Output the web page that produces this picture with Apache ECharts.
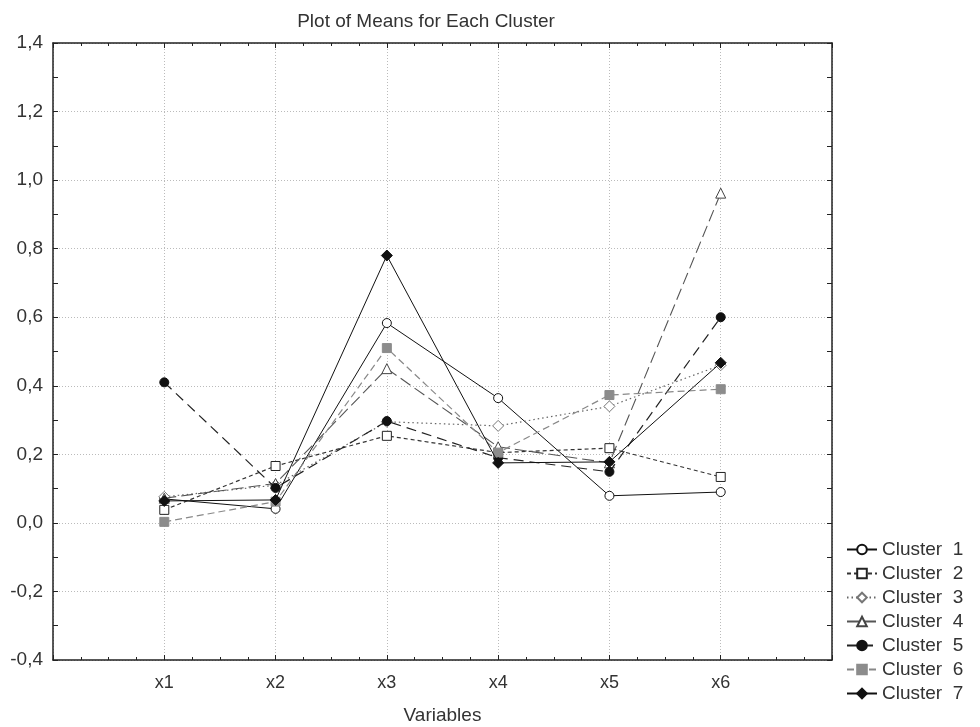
<!DOCTYPE html>
<html><head><meta charset="utf-8">
<script src="https://cdn.jsdelivr.net/npm/echarts@6/dist/echarts.min.js"></script>
<style>html,body{margin:0;padding:0;background:#fff}#c{width:980px;height:727px}</style>
</head><body><div id="c"></div>
<script>
const categories = ["x1","x2","x3","x4","x5","x6"];
const seriesNames = ["Cluster  1","Cluster  2","Cluster  3","Cluster  4","Cluster  5","Cluster  6","Cluster  7"];
const cluster1 = [0.070, 0.041, 0.583, 0.364, 0.079, 0.090];
const cluster2 = [0.038, 0.166, 0.254, 0.205, 0.218, 0.134];
const cluster3 = [0.076, 0.110, 0.295, 0.283, 0.340, 0.460];
const cluster4 = [0.072, 0.115, 0.450, 0.222, 0.175, 0.962];
const cluster5 = [0.410, 0.102, 0.297, 0.190, 0.149, 0.600];
const cluster6 = [0.003, 0.062, 0.510, 0.205, 0.373, 0.390];
const cluster7 = [0.064, 0.067, 0.780, 0.175, 0.178, 0.467];
const yTicks = [-0.4,-0.2,0,0.2,0.4,0.6,0.8,1.0,1.2,1.4];

const allValues = [cluster1,cluster2,cluster3,cluster4,cluster5,cluster6,cluster7];
const styles = [
  {symbol:'circle', fill:'#fff', stroke:'#111', line:'#111', type:'solid', w:1},
  {symbol:'rect', fill:'#fff', stroke:'#222', line:'#333', type:[4,3], w:1.2},
  {symbol:'diamond', fill:'#fff', stroke:'#777', line:'#666', type:[1.5,3], w:1.2},
  {symbol:'triangle', fill:'#fff', stroke:'#444', line:'#555', type:[12,5], w:1.1},
  {symbol:'circle', fill:'#111', stroke:'#111', line:'#222', type:[10,6], w:1.2},
  {symbol:'rect', fill:'#8c8c8c', stroke:'#8c8c8c', line:'#888', type:[7,4], w:1.2},
  {symbol:'diamond', fill:'#111', stroke:'#111', line:'#111', type:'solid', w:1}
];
const font = 'Liberation Sans, Arial, sans-serif';
const series = allValues.map((vals,i)=>({
  name: seriesNames[i],
  type: 'line',
  data: vals.map((v,j)=>[j+1, v]),
  symbol: styles[i].symbol,
  symbolSize: styles[i].symbol==='diamond'?11:(styles[i].symbol==='triangle'?10:9),
  showAllSymbol: true,
  itemStyle: {color: styles[i].fill, borderColor: styles[i].stroke, borderWidth: 1},
  lineStyle: {color: styles[i].line, type: styles[i].type, width: styles[i].w},
  emphasis: {disabled: true},
  z: 10 + i
}));
const chart = echarts.init(document.getElementById('c'), null, {renderer:'canvas'});
const axisLine = {show:true, onZero:false, lineStyle:{color:'#222', width:1.5}};
const tick = {show: true, inside: true, length: 5, lineStyle:{color:'#222'}};
chart.setOption({
  animation: false,
  backgroundColor: '#fff',
  title: {text: 'Plot of Means for Each Cluster', left: 421, top: 7, textAlign: 'center',
    textStyle: {fontFamily: font, fontSize: 19, fontWeight: 'normal', color: '#333'}},
  legend: {orient: 'vertical', left: 841, top: 535, itemWidth: 30, itemHeight: 12, itemGap: 5,
    textStyle: {fontFamily: font, fontSize: 19, color: '#333'},
    data: seriesNames},
  grid: {left: 53, right: 148, top: 43, bottom: 67, outerBoundsMode: 'none', containLabel: false},
  xAxis: [{
    type: 'value', min: 0, max: 7, interval: 1, position: 'bottom',
    name: 'Variables', nameLocation: 'middle', nameGap: 46,
    nameTextStyle: {fontFamily: font, fontSize: 19, color: '#333'},
    axisLine: axisLine, axisTick: tick,
    minorTick: {show: true, splitNumber: 4, length: 3, lineStyle:{color:'#222'}},
    axisLabel: {fontFamily: font, fontSize: 18, color: '#333', margin: 14,
      formatter: v => (v>=1 && v<=categories.length) ? categories[v-1] : ''},
    splitLine: {show: true, lineStyle: {color: '#bbb', type: [1,2]}},
  },{
    type: 'value', min: 0, max: 7, interval: 1, position: 'top',
    axisLine: axisLine, axisTick: tick,
    minorTick: {show: true, splitNumber: 4, length: 3, lineStyle:{color:'#222'}},
    axisLabel: {show: false}, splitLine: {show: false}
  }],
  yAxis: [{
    type: 'value', min: yTicks[0], max: yTicks[yTicks.length-1], interval: 0.2, position: 'left',
    axisLine: axisLine, axisTick: tick,
    minorTick: {show: true, splitNumber: 2, length: 5, lineStyle:{color:'#222'}},
    axisLabel: {fontFamily: font, fontSize: 19, color: '#333', margin: 10,
      formatter: v => (Math.round(v*10)/10).toFixed(1).replace('.', ',')},
    splitLine: {show: true, lineStyle: {color: '#bbb', type: [1,2]}}
  },{
    type: 'value', min: yTicks[0], max: yTicks[yTicks.length-1], interval: 0.2, position: 'right',
    axisLine: axisLine, axisTick: tick,
    minorTick: {show: true, splitNumber: 2, length: 5, lineStyle:{color:'#222'}},
    axisLabel: {show: false}, splitLine: {show: false}
  }],
  series: series
});
</script></body></html>
